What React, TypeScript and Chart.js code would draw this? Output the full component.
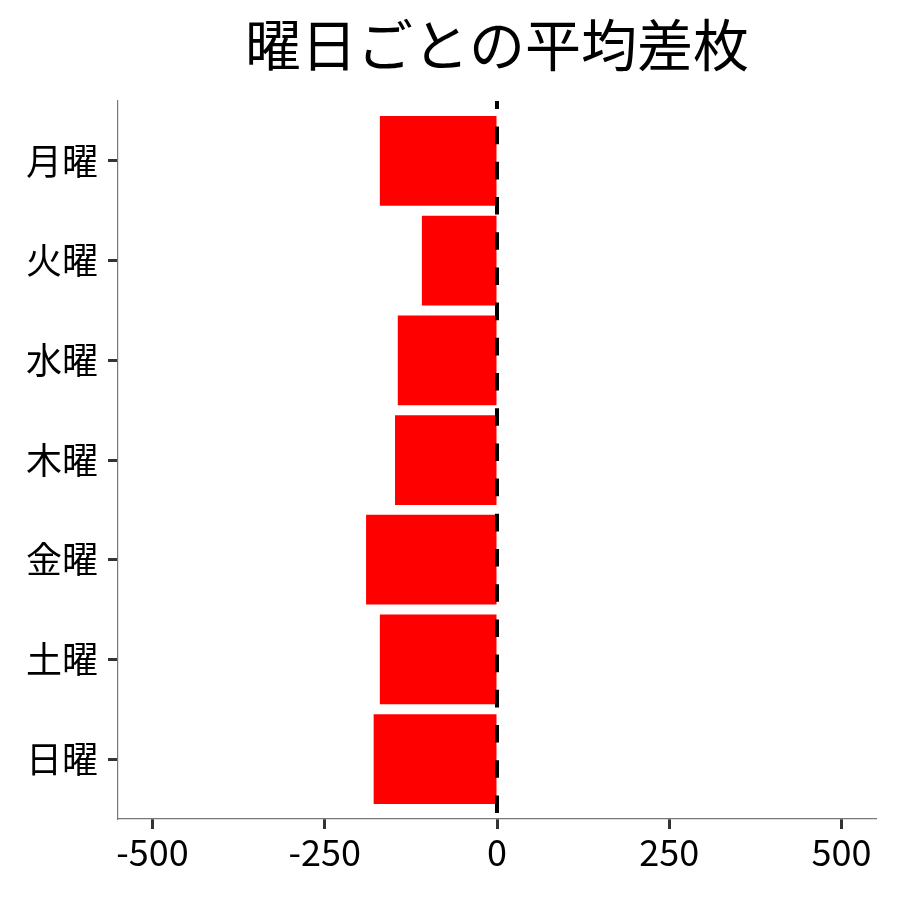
import React, { useEffect, useRef } from 'react';
import { Chart, registerables } from 'chart.js';

Chart.register(...registerables);

// data
const days = ['月曜', '火曜', '水曜', '木曜', '金曜', '土曜', '日曜'];
const avgDiff = [-170, -109, -144, -148, -190, -170, -179];
const xTicks = [-500, -250, 0, 250, 500];
const chartTitle = '曜日ごとの平均差枚';

const FONT = '"Noto Sans CJK JP", "Noto Sans", sans-serif';

// title centred over the plot panel, like ggplot
const panelTitle = {
  id: 'panelTitle',
  afterDraw(chart: Chart) {
    const { ctx, chartArea } = chart;
    ctx.save();
    ctx.font = `56px ${FONT}`;
    ctx.fillStyle = '#000';
    ctx.textAlign = 'center';
    ctx.textBaseline = 'middle';
    ctx.fillText(chartTitle, (chartArea.left + chartArea.right) / 2, 45);
    ctx.restore();
  },
};

// dashed reference line at x = 0
const zeroLine = {
  id: 'zeroLine',
  afterDatasetsDraw(chart: Chart) {
    const { ctx, chartArea, scales } = chart;
    const x = scales.x.getPixelForValue(0);
    ctx.save();
    ctx.strokeStyle = '#000';
    ctx.lineWidth = 4;
    ctx.setLineDash([17.6, 17.6]);
    ctx.lineDashOffset = 9.6;
    ctx.beginPath();
    ctx.moveTo(x, chartArea.top);
    ctx.lineTo(x, chartArea.bottom);
    ctx.stroke();
    ctx.restore();
  },
};

export default function App() {
  const canvasRef = useRef<HTMLCanvasElement>(null);
  const chartRef = useRef<Chart | null>(null);

  useEffect(() => {
    if (!canvasRef.current) return;
    if (chartRef.current) chartRef.current.destroy();

    chartRef.current = new Chart(canvasRef.current, {
      type: 'bar',
      data: {
        datasets: [
          {
            data: avgDiff.map((v, i) => ({ x: v, y: i })),
            backgroundColor: '#ff0000',
            borderWidth: 0,
            barPercentage: 0.9,
            categoryPercentage: 1,
          },
        ],
      },
      options: {
        indexAxis: 'y',
        animation: false,
        responsive: true,
        maintainAspectRatio: false,
        layout: { padding: { top: 101, right: 24, left: 0, bottom: 0 } },
        plugins: {
          legend: { display: false },
          tooltip: { enabled: false },
          title: { display: false },
        },
        scales: {
          x: {
            type: 'linear',
            min: -550,
            max: 550,
            afterBuildTicks: (scale: any) => {
              scale.ticks = xTicks.map((v) => ({ value: v }));
            },
            afterFit: (scale: any) => {
              scale.height = 81;
            },
            border: { display: true, color: '#777', width: 1.2 },
            grid: {
              drawOnChartArea: false,
              drawTicks: true,
              tickLength: 10,
              tickWidth: 3,
              tickColor: '#333',
            },
            ticks: {
              color: '#000',
              padding: 2,
              maxRotation: 0,
              font: { family: FONT, size: 36 },
            },
          },
          y: {
            type: 'linear',
            min: -0.6,
            max: 6.6,
            reverse: true,
            offset: false,
            afterBuildTicks: (scale: any) => {
              scale.ticks = days.map((_, i) => ({ value: i }));
            },
            afterFit: (scale: any) => {
              scale.width = 118;
            },
            border: { display: true, color: '#777', width: 1.2 },
            grid: {
              offset: false,
              drawOnChartArea: false,
              drawTicks: true,
              tickLength: 10,
              tickWidth: 3,
              tickColor: '#333',
            },
            ticks: {
              color: '#000',
              padding: 10,
              font: { family: FONT, size: 36 },
              callback: (value: any) => days[value] ?? '',
            },
          },
        },
      },
      plugins: [panelTitle, zeroLine],
    });

    return () => {
      if (chartRef.current) {
        chartRef.current.destroy();
        chartRef.current = null;
      }
    };
  }, []);

  return (
    <div style={{ position: 'fixed', left: 0, top: 0, width: 900, height: 900, background: '#fff' }}>
      <canvas ref={canvasRef}></canvas>
    </div>
  );
}
